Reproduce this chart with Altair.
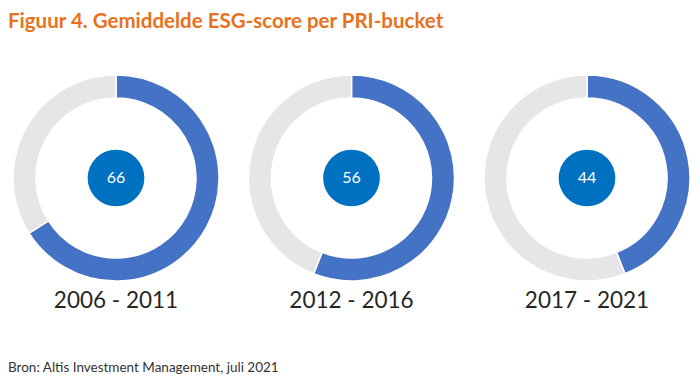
import altair as alt
import pandas as pd

# ---- data ----
periods = ["2006 - 2011", "2012 - 2016", "2017 - 2021"]
scores = [66, 56, 44]
title_text = "Figuur 4. Gemiddelde ESG-score per PRI-bucket"
source_text = "Bron: Altis Investment Management, juli 2021"

# ---- tables built from the lists ----
rows = []
for p, s in zip(periods, scores):
    rows.append({"period": p, "part": "score", "start": 0, "end": s})
    rows.append({"period": p, "part": "rest", "start": s, "end": 100})
arcs_df = pd.DataFrame(rows)
centers_df = pd.DataFrame({"period": periods, "score": scores})
title_df = pd.DataFrame({"t": [title_text]})
source_df = pd.DataFrame({"t": [source_text]})

FONT = "Lato"
CY = 170

xenc = alt.X(
    "period:N",
    scale=alt.Scale(type="point", domain=periods, range=[108, 579], padding=0),
    axis=None,
)

ring = alt.Chart(arcs_df).mark_arc(radius=103, radius2=80, stroke="white", strokeWidth=1.5).encode(
    x=xenc,
    y=alt.value(CY),
    theta=alt.Theta("start:Q", scale=alt.Scale(domain=[0, 100], range=[0, 6.283185307]), stack=False),
    theta2="end:Q",
    color=alt.Color("part:N", scale=alt.Scale(domain=["score", "rest"], range=["#4472C4", "#E7E6E6"]), legend=None),
)

dots = alt.Chart(centers_df).mark_circle(size=3217, color="#0070C0", opacity=1).encode(
    x=xenc, y=alt.value(CY)
)

nums = alt.Chart(centers_df).mark_text(color="white", fontSize=16, font=FONT).encode(
    x=xenc, y=alt.value(CY), text="score:Q"
)

labels = alt.Chart(centers_df).mark_text(color="#262626", fontSize=22.5, font=FONT, baseline="middle").encode(
    x=xenc, y=alt.value(293), text="period:N"
)

title = alt.Chart(title_df).mark_text(
    align="left", baseline="middle", fontSize=20.5, fontWeight="bold", color="#E9711C", font=FONT
).encode(x=alt.value(0), y=alt.value(14), text="t:N")

source = alt.Chart(source_df).mark_text(
    align="left", baseline="middle", fontSize=13.5, color="#333333", font=FONT
).encode(x=alt.value(0), y=alt.value(360), text="t:N")

chart = alt.layer(ring, dots, nums, labels, title, source).properties(
    width=684, height=370, padding=0, autosize="none"
).configure_view(stroke=None)

chart.save("out.html", embed_options={"renderer": "svg", "actions": False})
